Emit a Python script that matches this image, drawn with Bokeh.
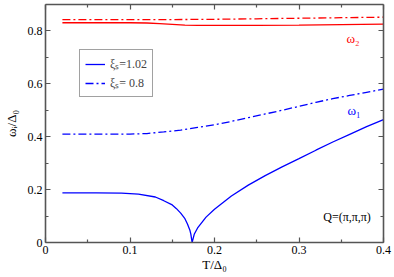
from bokeh.plotting import figure
from bokeh.models import (Range1d, LinearAxis, FixedTicker, CustomJSTickFormatter,
                          Legend, LegendItem, Label)
from bokeh.embed import file_html
from bokeh.resources import INLINE

# ---- data ----
T_w1_a = [0.02, 0.06, 0.09, 0.11, 0.13, 0.14, 0.15, 0.155, 0.16, 0.165, 0.168, 0.171, 0.172, 0.1735,
          0.176, 0.18, 0.19, 0.20, 0.22, 0.24, 0.26, 0.28, 0.30, 0.32, 0.34, 0.36, 0.38, 0.40]
w1_a = [0.188, 0.188, 0.187, 0.183, 0.172, 0.158, 0.142, 0.128, 0.111, 0.090, 0.070, 0.045, 0.032, 0.0,
        0.031, 0.055, 0.096, 0.126, 0.176, 0.217, 0.253, 0.286, 0.317, 0.349, 0.380, 0.409, 0.438, 0.465]

T_w1_b = [0.02, 0.06, 0.10, 0.12, 0.14, 0.16, 0.18, 0.20, 0.22, 0.24, 0.26, 0.28, 0.30, 0.32, 0.34,
          0.36, 0.38, 0.40]
w1_b = [0.410, 0.410, 0.410, 0.412, 0.418, 0.425, 0.435, 0.445, 0.458, 0.472, 0.486, 0.500, 0.515,
        0.530, 0.544, 0.556, 0.568, 0.580]

T_w2_a = [0.02, 0.10, 0.12, 0.135, 0.15, 0.165, 0.18, 0.25, 0.30, 0.35, 0.40]
w2_a = [0.831, 0.831, 0.830, 0.828, 0.825, 0.822, 0.821, 0.821, 0.822, 0.824, 0.826]

T_w2_b = [0.02, 0.10, 0.15, 0.20, 0.25, 0.30, 0.35, 0.40]
w2_b = [0.843, 0.843, 0.843, 0.844, 0.846, 0.848, 0.850, 0.852]

x_ticks = [0, 0.1, 0.2, 0.3, 0.4]
x_minor = [0.05, 0.15, 0.25, 0.35]
y_ticks = [0, 0.2, 0.4, 0.6, 0.8]
y_minor = [0.1, 0.3, 0.5, 0.7]
series_labels = ["ξₛ=1.02", "ξₛ= 0.8"]
x_title = "T/Δ₀"
y_title = "ωᵢ/Δ₀"

FONT = "Liberation Serif"
AX = "#555555"
BLUE = "#0000ff"
RED = "#ff0000"
DASHDOT = "8 3 2 3"
LW = 1.3

W, H = 394, 277
MB_L, MB_R, MB_T, MB_B = 43, 11, 4, 35

p = figure(width=W, height=H, output_backend="svg", toolbar_location=None,
           x_range=Range1d(0, 0.4), y_range=Range1d(0, 0.9),
           min_border_left=MB_L, min_border_right=MB_R, min_border_top=MB_T, min_border_bottom=MB_B,
           x_axis_label=x_title, y_axis_label=y_title)
p.grid.visible = False
p.outline_line_color = None
p.background_fill_color = "white"
p.border_fill_color = "white"

fmt = CustomJSTickFormatter(code="return tick == 0 ? '0' : tick.toFixed(1);")
blank = CustomJSTickFormatter(code="return '';")

def style(ax, ticks, minor, labels=True):
    ax.ticker = FixedTicker(ticks=ticks, minor_ticks=minor)
    ax.axis_line_color = AX
    ax.axis_line_width = 1.6
    ax.major_tick_line_color = AX
    ax.minor_tick_line_color = AX
    ax.major_tick_line_width = 1.2
    ax.minor_tick_line_width = 1.2
    ax.major_tick_in = 5
    ax.major_tick_out = 0
    ax.minor_tick_in = 3
    ax.minor_tick_out = 0
    ax.major_label_text_font = FONT
    ax.major_label_text_font_size = "12px"
    ax.major_label_text_color = "black"
    ax.axis_label_text_font = FONT
    ax.axis_label_text_font_size = "13px"
    ax.axis_label_text_font_style = "normal"
    ax.axis_label_text_color = "black"
    ax.formatter = fmt if labels else blank

style(p.xaxis[0], x_ticks, x_minor)
style(p.yaxis[0], y_ticks, y_minor)
p.xaxis[0].major_label_standoff = 3
p.xaxis[0].axis_label_standoff = 0
p.yaxis[0].major_label_standoff = 3
p.yaxis[0].axis_label_standoff = 6

top = LinearAxis()
style(top, x_ticks, x_minor, labels=False)
top.major_label_text_font_size = "0px"
top.major_label_standoff = 0
p.add_layout(top, "above")
right = LinearAxis()
style(right, y_ticks, y_minor, labels=False)
right.major_label_text_font_size = "0px"
right.major_label_standoff = 0
p.add_layout(right, "right")

r1 = p.line(T_w1_a, w1_a, line_color=BLUE, line_width=LW)
r2 = p.line(T_w1_b, w1_b, line_color=BLUE, line_width=LW, line_dash=DASHDOT)
p.line(T_w2_a, w2_a, line_color=RED, line_width=LW)
p.line(T_w2_b, w2_b, line_color=RED, line_width=LW, line_dash=DASHDOT)

legend = Legend(items=[LegendItem(label=series_labels[0], renderers=[r1]),
                       LegendItem(label=series_labels[1], renderers=[r2])],
                location=(34, 145), orientation="vertical",
                padding=5, spacing=2, margin=0,
                glyph_width=20, glyph_height=16, label_height=16, label_standoff=5,
                label_text_font=FONT, label_text_font_size="12px",
                border_line_color="#444444", border_line_width=1.2,
                background_fill_color="white", background_fill_alpha=1)
p.add_layout(legend, "center")

p.add_layout(Label(x=0.364, y=0.773, text="ω₂", text_color=RED, text_font=FONT,
                   text_font_size="13px", text_align="center", text_baseline="middle"))
p.add_layout(Label(x=0.365, y=0.50, text="ω₁", text_color=BLUE, text_font=FONT,
                   text_font_size="13px", text_align="center", text_baseline="middle"))
p.add_layout(Label(x=0.385, y=0.096, text="Q=(π,π,π)", text_color="black", text_font=FONT,
                   text_font_size="12px", text_align="right", text_baseline="middle"))

open("out.html", "w").write(file_html(p, INLINE))
